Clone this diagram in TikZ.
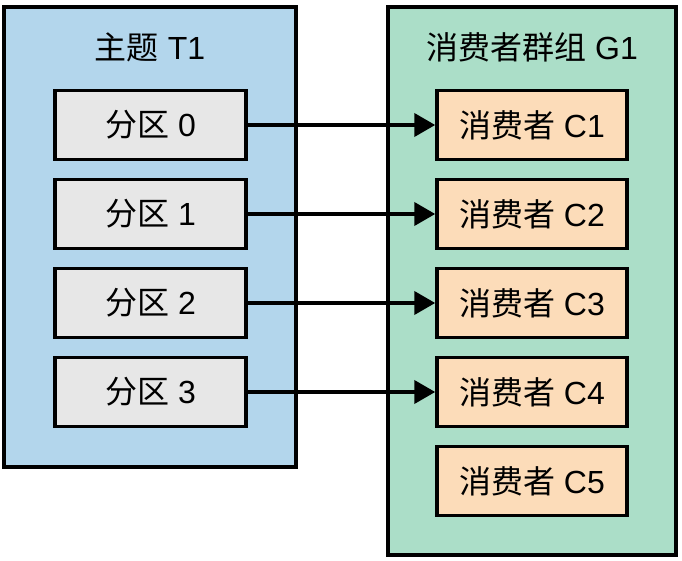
\documentclass[tikz,border=0pt]{standalone}
\usepackage{fontspec}
\setmainfont{Liberation Sans}
\newfontfamily\cjkfont{Noto Sans CJK SC}
\usetikzlibrary{positioning,arrows.meta}
\definecolor{topic_blue}{HTML}{B3D6EC}
\definecolor{group_green}{HTML}{ABDEC8}
\definecolor{part_gray}{HTML}{E7E7E7}
\definecolor{cons_peach}{HTML}{FCDCB9}
\newcommand{\zh}[1]{{\cjkfont #1}}
\tikzset{GROUP/.style={rectangle,draw,line width=3.5pt,anchor=center}}
\tikzset{TITLE/.style={font=\fontsize{32}{38}\selectfont}}
\tikzset{PART/.style={rectangle,draw,line width=3.5pt,fill=part_gray,minimum width=191pt,minimum height=69pt,font=\fontsize{32}{38}\selectfont}}
\tikzset{CONSUMER/.style={rectangle,draw,line width=3.5pt,fill=cons_peach,minimum width=190pt,minimum height=69pt,font=\fontsize{32}{38}\selectfont}}
\tikzset{ARROW/.style={line width=4pt, -{Triangle[length=21pt,width=23pt]}}}

\begin{document}
\begin{tikzpicture}[x=1pt,y=-1pt]
\useasboundingbox (0,0) rectangle (682,561);

\node[GROUP, fill=topic_blue, minimum width=292pt, minimum height=460pt] (n_topic) at (150,237) {};
\node[GROUP, fill=group_green, minimum width=288pt, minimum height=548pt] (n_group) at (532,281) {};

\node[TITLE] (n_topic_title) at (150,47) {\zh{主题} T1};
\node[TITLE] (n_group_title) at (532,47) {\zh{消费者群组} G1};

\node[PART] (n_part0) at (150.5,125) {\zh{分区} 0};
\node[PART, below=16.5pt of n_part0] (n_part1) {\zh{分区} 1};
\node[PART, below=16.5pt of n_part1] (n_part2) {\zh{分区} 2};
\node[PART, below=16.5pt of n_part2] (n_part3) {\zh{分区} 3};

\node[CONSUMER] (n_cons1) at (532,125) {\zh{消费者} C1};
\node[CONSUMER, below=16.5pt of n_cons1] (n_cons2) {\zh{消费者} C2};
\node[CONSUMER, below=16.5pt of n_cons2] (n_cons3) {\zh{消费者} C3};
\node[CONSUMER, below=16.5pt of n_cons3] (n_cons4) {\zh{消费者} C4};
\node[CONSUMER, below=16.5pt of n_cons4] (n_cons5) {\zh{消费者} C5};

\draw[ARROW] (n_part0.east) -- (n_cons1.west);
\draw[ARROW] (n_part1.east) -- (n_cons2.west);
\draw[ARROW] (n_part2.east) -- (n_cons3.west);
\draw[ARROW] (n_part3.east) -- (n_cons4.west);

\end{tikzpicture}
\end{document}
